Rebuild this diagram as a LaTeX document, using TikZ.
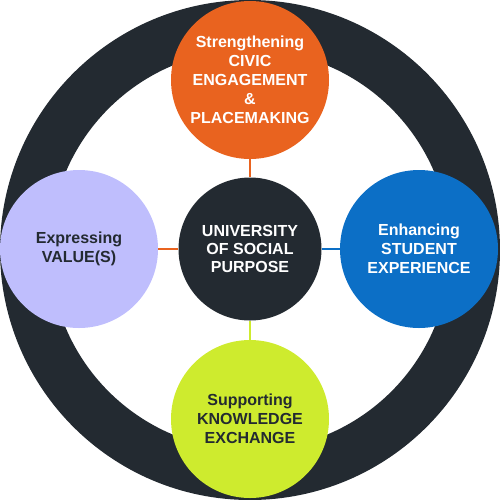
\documentclass[tikz,border=0pt]{standalone}
\usepackage{fontspec}
\setmainfont{Liberation Sans}
\definecolor{ringcol}{HTML}{232A31}
\definecolor{orangecol}{HTML}{E9631F}
\definecolor{lavcol}{HTML}{BFBEFD}
\definecolor{bluecol}{HTML}{0C6FC6}
\definecolor{greencol}{HTML}{CEEB2E}
\tikzset{
  bubble/.style={circle, inner sep=0pt, minimum size=158pt, align=center,
    font=\bfseries\fontsize{16}{19}\selectfont},
  hub/.style={circle, inner sep=0pt, minimum size=143pt, align=center, fill=ringcol,
    text=white, font=\bfseries\fontsize{16}{18}\selectfont},
  link/.style={line width=2pt}
}
\begin{document}
\begin{tikzpicture}[x=1pt,y=-1pt]
\useasboundingbox (0,0) rectangle (500,499);
\node[circle, draw=ringcol, line width=50pt, minimum size=450pt, inner sep=0pt] (ring) at (250,250) {};
\node[hub] (hubc) at (250,249) {UNIVERSITY\\OF SOCIAL\\PURPOSE};
\node[bubble, fill=orangecol, text=white] (civic) at (250,80) {Strengthening\\CIVIC\\ENGAGEMENT\\\&\\PLACEMAKING};
\node[bubble, fill=lavcol, text=ringcol] (value) at (79,249) {Expressing\\VALUE(S)};
\node[bubble, fill=bluecol, text=white] (student) at (419,249) {Enhancing\\STUDENT\\EXPERIENCE};
\node[bubble, fill=greencol, text=ringcol] (know) at (250,419) {Supporting\\KNOWLEDGE\\EXCHANGE};
\draw[link, orangecol] (hubc) -- (civic);
\draw[link, orangecol] (hubc) -- (value);
\draw[link, bluecol] (hubc) -- (student);
\draw[link, greencol] (hubc) -- (know);
\end{tikzpicture}
\end{document}
